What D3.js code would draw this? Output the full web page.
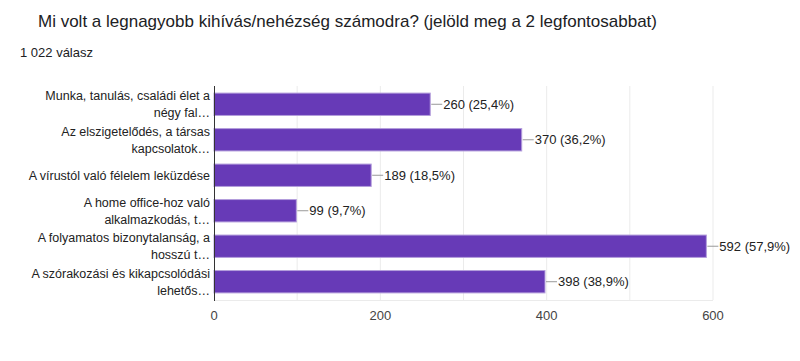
<!DOCTYPE html>
<html>
<head>
<meta charset="utf-8">
<script src="https://cdn.jsdelivr.net/npm/d3@7"></script>
<style>
  body { margin: 0; background: #fff; font-family: Arial, "Liberation Sans", sans-serif; }
</style>
</head>
<body>
<svg id="chart" width="800" height="361"></svg>
<script>
// question and answer count
var title = "Mi volt a legnagyobb kihívás/nehézség számodra? (jelöld meg a 2 legfontosabbat)";
var subtitle = "1 022 válasz";

// categories (wrapped as shown in the chart)
var categories = [
    ["Munka, tanulás, családi élet a", "négy fal…"],
    ["Az elszigetelődés, a társas", "kapcsolatok…"],
    ["A vírustól való félelem leküzdése"],
    ["A home office-hoz való", "alkalmazkodás, t…"],
    ["A folyamatos bizonytalanság, a", "hosszú t…"],
    ["A szórakozási és kikapcsolódási", "lehetős…"]
];
var counts = [260, 370, 189, 99, 592, 398];
var percents = ["25,4%", "36,2%", "18,5%", "9,7%", "57,9%", "38,9%"];
var tickValues = [0, 200, 400, 600];
var gridValues = [100, 200, 300, 400, 500, 600];

var svg = d3.select("#chart");
var margin = {left: 214, right: 87, top: 86, bottom: 61};
var width = 800 - margin.left - margin.right;
var height = 361 - margin.top - margin.bottom;

svg.append("text")
    .attr("x", 38)
    .attr("y", 27)
    .attr("fill", "#202124")
    .style("font-size", "17px")
    .text(title);

svg.append("text")
    .attr("x", 20)
    .attr("y", 57)
    .attr("fill", "#202124")
    .style("font-size", "13px")
    .text(subtitle);

var g = svg.append("g")
    .attr("transform", "translate(" + margin.left + "," + margin.top + ")");

var x = d3.scaleLinear().domain([0, 600]).range([0, width]);
var y = d3.scaleBand()
    .domain(d3.range(counts.length))
    .range([0, height])
    .paddingInner(0.37)
    .paddingOuter(0.2);

// grid
g.selectAll("line.grid")
    .data(gridValues)
    .enter().append("line")
    .attr("class", "grid")
    .attr("x1", function(d) { return x(d); })
    .attr("x2", function(d) { return x(d); })
    .attr("y1", 0)
    .attr("y2", height)
    .attr("stroke", "#ebebeb")
    .attr("stroke-width", 1);

g.append("line")
    .attr("x1", 0).attr("x2", width)
    .attr("y1", height + 0.5).attr("y2", height + 0.5)
    .attr("stroke", "#ebebeb");

// bars
g.selectAll("rect.bar")
    .data(counts)
    .enter().append("rect")
    .attr("class", "bar")
    .attr("x", 0)
    .attr("y", function(d, i) { return y(i); })
    .attr("width", function(d) { return x(d); })
    .attr("height", y.bandwidth())
    .attr("fill", "#673ab7")
    .attr("stroke", "#b39ddb")
    .attr("stroke-width", 1);

// leader lines and value labels
g.selectAll("line.lead")
    .data(counts)
    .enter().append("line")
    .attr("class", "lead")
    .attr("x1", function(d) { return x(d) + 1; })
    .attr("x2", function(d) { return x(d) + 12; })
    .attr("y1", function(d, i) { return y(i) + y.bandwidth() / 2; })
    .attr("y2", function(d, i) { return y(i) + y.bandwidth() / 2; })
    .attr("stroke", "#999");

g.selectAll("text.value")
    .data(counts)
    .enter().append("text")
    .attr("class", "value")
    .attr("x", function(d) { return x(d) + 13; })
    .attr("y", function(d, i) { return y(i) + y.bandwidth() / 2; })
    .attr("dy", "0.35em")
    .attr("fill", "#222")
    .style("font-size", "13px")
    .text(function(d, i) { return d + " (" + percents[i] + ")"; });

// category labels
var labels = g.selectAll("text.cat")
    .data(categories)
    .enter().append("text")
    .attr("class", "cat")
    .attr("text-anchor", "end")
    .attr("fill", "#222")
    .style("font-size", "12.5px")
    .attr("transform", function(d, i) {
        return "translate(-4," + (y(i) + y.bandwidth() / 2) + ")";
    });

labels.each(function(d) {
    var t = d3.select(this);
    var n = d.length;
    d.forEach(function(line, k) {
        t.append("tspan")
            .attr("x", 0)
            .attr("y", (k - (n - 1) / 2) * 17)
            .attr("dy", "0.35em")
            .text(line);
    });
});

// x axis labels
g.selectAll("text.tick")
    .data(tickValues)
    .enter().append("text")
    .attr("class", "tick")
    .attr("x", function(d) { return x(d); })
    .attr("y", height + 20)
    .attr("text-anchor", "middle")
    .attr("fill", "#444")
    .style("font-size", "13px")
    .text(function(d) { return d; });

// baseline
g.append("line")
    .attr("x1", 0.5).attr("x2", 0.5)
    .attr("y1", 0).attr("y2", height + 1)
    .attr("stroke", "#333");
</script>
</body>
</html>
